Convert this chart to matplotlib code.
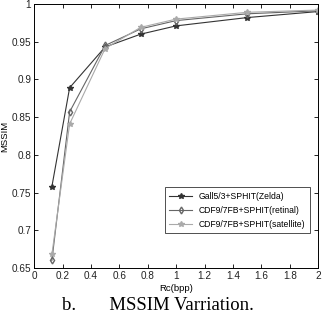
import matplotlib
matplotlib.use('Agg')
import matplotlib.pyplot as plt

rc = [0.125, 0.25, 0.5, 0.75, 1.0, 1.5, 2.0]
zelda = [0.758, 0.889, 0.943, 0.960, 0.971, 0.982, 0.990]
retinal = [0.660, 0.857, 0.945, 0.967, 0.978, 0.987, 0.991]
satellite = [0.668, 0.841, 0.941, 0.969, 0.980, 0.989, 0.992]

labels = ['Gall5/3+SPHIT(Zelda)', 'CDF9/7FB+SPHIT(retinal)', 'CDF9/7FB+SPHIT(satellite)']


def main() -> None:
    plt.rcParams['font.family'] = ['Liberation Sans', 'DejaVu Sans']
    fig = plt.figure(figsize=(3.22, 3.2), dpi=100)
    ax = fig.add_axes([0.106, 0.1625, 0.882, 0.825])

    ax.plot(rc, zelda, color='#333333', lw=0.8, marker='*', ms=4, label=labels[0])
    ax.plot(rc, retinal, color='#666666', lw=0.8, marker='d', ms=3.5, mfc='none', label=labels[1])
    ax.plot(rc, satellite, color='#aaaaaa', lw=0.8, marker='*', ms=4, label=labels[2])

    ax.set_xlim(0, 2)
    ax.set_ylim(0.65, 1)
    ax.set_xticks([0, 0.2, 0.4, 0.6, 0.8, 1, 1.2, 1.4, 1.6, 1.8, 2])
    ax.set_xticklabels(['0', '0.2', '0.4', '0.6', '0.8', '1', '1.2', '1.4', '1.6', '1.8', '2'])
    ax.set_yticks([0.65, 0.7, 0.75, 0.8, 0.85, 0.9, 0.95, 1])
    ax.set_yticklabels(['0.65', '0.7', '0.75', '0.8', '0.85', '0.9', '0.95', '1'])
    ax.tick_params(direction='in', top=True, right=True, labelsize=7.2, length=3, width=0.6, pad=2,
                   labelcolor='#222222')
    for s in ax.spines.values():
        s.set_linewidth(0.7)

    ax.set_xlabel('Rc(bpp)', fontsize=6.8, labelpad=2)
    ax.set_ylabel('MSSIM', fontsize=6.8, labelpad=2)

    leg = ax.legend(loc='lower right', bbox_to_anchor=(0.985, 0.115), fontsize=6.2,
                    frameon=True, fancybox=False, edgecolor='black', handlelength=2.6,
                    borderpad=0.5, labelspacing=0.6)
    leg.get_frame().set_linewidth(0.6)

    fig.text(0.49, 0.045, 'b.       MSSIM Varriation.', ha='center', va='center',
             fontsize=13.5, family='Liberation Serif')

    fig.savefig('out.png', dpi=100)


if __name__ == '__main__':
    main()
